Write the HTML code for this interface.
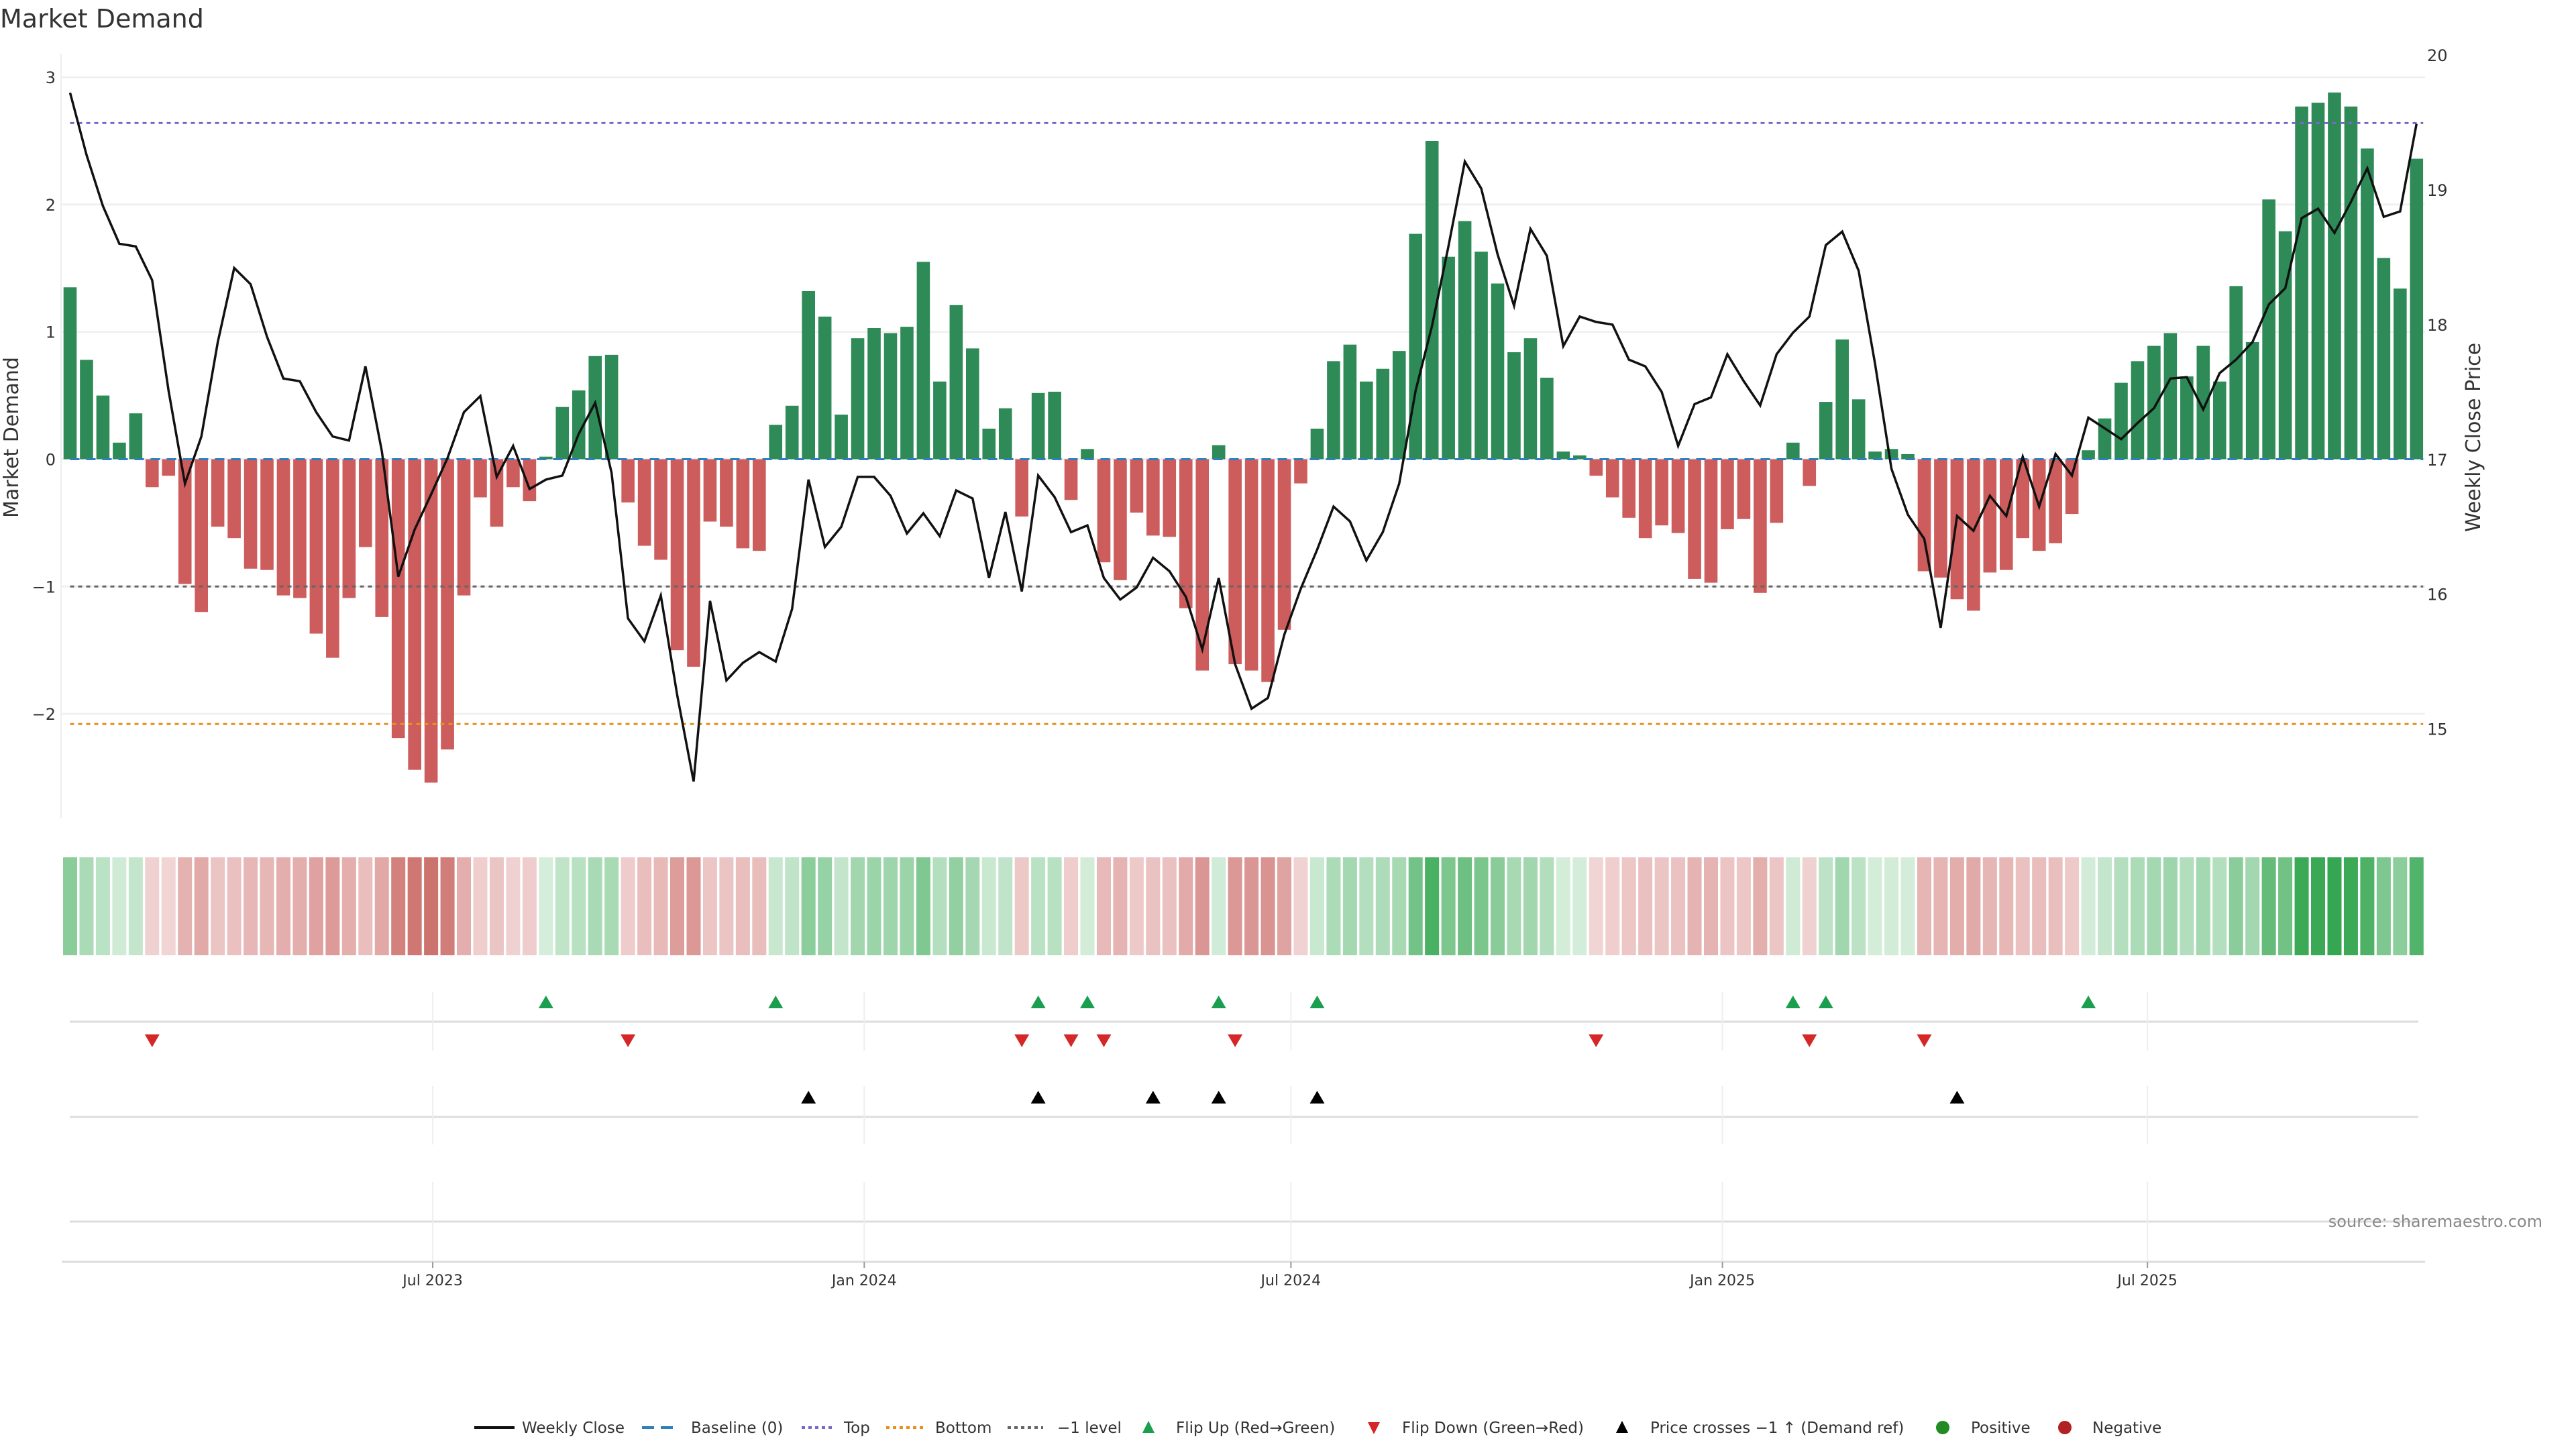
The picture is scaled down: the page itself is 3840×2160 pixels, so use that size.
<!DOCTYPE html>
<html><head><meta charset="utf-8"><title>Market Demand</title>
<style>
html,body{margin:0;padding:0;background:#fff;}
svg{display:block;font-family:"DejaVu Sans","Liberation Sans",sans-serif;}
</style></head>
<body>
<svg id="chart" width="3840" height="2160" viewBox="0 0 3840 2160" xmlns="http://www.w3.org/2000/svg">
<text x="0" y="41" font-size="38" fill="#333">Market Demand</text>
<g id="grid"></g>
<g id="main"></g>
<g id="heat"></g>
<g id="markers"></g>
<g id="xaxis"></g>
<text transform="translate(27,652) rotate(-90)" text-anchor="middle" font-size="30" fill="#333">Market Demand</text>
<text transform="translate(3697,652) rotate(-90)" text-anchor="middle" font-size="30" fill="#333">Weekly Close Price</text>
<text x="3790" y="1829" text-anchor="end" font-size="24" fill="#888">source: sharemaestro.com</text>
<g id="legend"></g>
</svg>
<script>
const demand = [1.35,0.78,0.50,0.13,0.36,-0.22,-0.13,-0.98,-1.20,-0.53,-0.62,-0.86,-0.87,-1.07,-1.09,-1.37,-1.56,-1.09,-0.69,-1.24,-2.19,-2.44,-2.54,-2.28,-1.07,-0.30,-0.53,-0.22,-0.33,0.02,0.41,0.54,0.81,0.82,-0.34,-0.68,-0.79,-1.50,-1.63,-0.49,-0.53,-0.70,-0.72,0.27,0.42,1.32,1.12,0.35,0.95,1.03,0.99,1.04,1.55,0.61,1.21,0.87,0.24,0.40,-0.45,0.52,0.53,-0.32,0.08,-0.81,-0.95,-0.42,-0.60,-0.61,-1.17,-1.66,0.11,-1.61,-1.66,-1.75,-1.34,-0.19,0.24,0.77,0.90,0.61,0.71,0.85,1.77,2.50,1.59,1.87,1.63,1.38,0.84,0.95,0.64,0.06,0.03,-0.13,-0.30,-0.46,-0.62,-0.52,-0.58,-0.94,-0.97,-0.55,-0.47,-1.05,-0.50,0.13,-0.21,0.45,0.94,0.47,0.06,0.08,0.04,-0.88,-0.93,-1.10,-1.19,-0.89,-0.87,-0.62,-0.72,-0.66,-0.43,0.07,0.32,0.60,0.77,0.89,0.99,0.65,0.89,0.61,1.36,0.92,2.04,1.79,2.77,2.80,2.88,2.77,2.44,1.58,1.34,2.36];
const price = [19.72,19.26,18.88,18.60,18.58,18.33,17.51,16.82,17.17,17.87,18.42,18.30,17.91,17.60,17.58,17.35,17.17,17.14,17.69,17.06,16.13,16.48,16.74,17.01,17.35,17.47,16.87,17.10,16.78,16.85,16.88,17.19,17.42,16.90,15.82,15.65,15.99,15.25,14.61,15.95,15.36,15.49,15.57,15.50,15.89,16.85,16.35,16.50,16.87,16.87,16.73,16.45,16.60,16.43,16.77,16.71,16.12,16.61,16.02,16.88,16.72,16.46,16.51,16.12,15.96,16.05,16.27,16.17,15.98,15.59,16.12,15.48,15.15,15.23,15.70,16.04,16.33,16.65,16.54,16.25,16.46,16.82,17.51,17.99,18.58,19.21,19.01,18.52,18.14,18.71,18.51,17.84,18.06,18.02,18.00,17.74,17.69,17.50,17.10,17.41,17.46,17.78,17.58,17.40,17.78,17.94,18.06,18.59,18.69,18.40,17.71,16.93,16.59,16.41,15.75,16.58,16.47,16.73,16.58,17.02,16.65,17.04,16.88,17.31,17.23,17.15,17.27,17.38,17.60,17.61,17.37,17.64,17.74,17.87,18.15,18.27,18.79,18.86,18.68,18.91,19.16,18.80,18.84,19.49];
const flipUpIdx = [29,43,59,62,70,76,105,107,123];
const flipDownIdx = [5,34,58,61,63,71,93,106,113];
const priceCrossIdx = [45,59,66,70,76,115];
const yTicks = [3,2,1,0,-1,-2];
const y2Ticks = [20,19,18,17,16,15];
const topLevel = 2.64;
const bottomLevel = -2.08;
const minusLevel = -1;
const xTickLabels = ["Jul 2023","Jan 2024","Jul 2024","Jan 2025","Jul 2025"];
const xTickPos = [22.1,48.4,74.4,100.7,126.6];

const NS="http://www.w3.org/2000/svg";
function mk(parent,tag,attrs){const e=document.createElementNS(NS,tag);for(const k in attrs)e.setAttribute(k,attrs[k]);parent.appendChild(e);return e;}
const X0=104.5, DX=24.46;
const xS = i => X0 + DX*i;
const yS = v => 684.5 - v*189.8;
const pS = p => 684.8 - (p-17)*200.9;
const grid=document.getElementById('grid'), main=document.getElementById('main');
let al=mk(grid,'line',{x1:91,x2:91,y1:80,y2:1220,stroke:'#eee','stroke-width':2});


yTicks.forEach(t=>{
  const g=mk(grid,'line',{x1:91,x2:3615,y1:yS(t),y2:yS(t),stroke:'#f0f0f0','stroke-width':3});
  
  
  const tx=mk(grid,'text',{x:83,y:yS(t)+9,'text-anchor':'end','font-size':24,fill:'#333'});
  tx.textContent = t<0 ? '\u2212'+Math.abs(t) : String(t);
  
  
});
y2Ticks.forEach(t=>{
  const tx=mk(grid,'text',{x:3618,y:pS(t)+9,'font-size':24,fill:'#333'});
  tx.textContent=String(t);
  
  
});
demand.forEach((v,i)=>{
  const y=Math.min(yS(v),yS(0)), h=Math.abs(yS(v)-yS(0));
  const r=mk(main,'rect',{x:xS(i)-9.8,y:y,width:19.6,height:Math.max(h,0.5),fill:v>=0?'#2e8b57':'#cd5c5c'});
  
  
});
function hline(v,color,dash,name){
  const l=mk(main,'line',{x1:xS(0),x2:xS(demand.length-1)+10,y1:yS(v),y2:yS(v),stroke:color,'stroke-width':3,'stroke-dasharray':dash});
  
  
}
hline(0,'#2f7fb8','14 10','baseline-line');
hline(topLevel,'#7a68c6','6 6','top-line');
hline(bottomLevel,'#e8901c','6 6','bottom-line');
hline(minusLevel,'#666','6 6','minus-one-line');
const pl=mk(main,'polyline',{points:price.map((p,i)=>xS(i)+','+pS(p)).join(' '),fill:'none',stroke:'#111','stroke-width':3.5,'stroke-linejoin':'miter'});


const heat=document.getElementById('heat');
function heatColor(v){
  const t=Math.min(Math.abs(v)/2.9,1);
  const a=v>=0?[214,238,220]:[243,218,218], b=v>=0?[52,166,80]:[200,100,95];
  return 'rgb('+a.map((c,k)=>Math.round(c+(b[k]-c)*t)).join(',')+')';
}
demand.forEach((v,i)=>{
  const r=mk(heat,'rect',{x:xS(i)-10.5,y:1278,width:21,height:146,fill:heatColor(v)});
  
  
});
const mg=document.getElementById('markers');
[[1479,1566,1523],[1619,1706,1665],[1762,1883,1821]].forEach(row=>{
  const g=mk(mg,'line',{x1:104,x2:3605,y1:row[2],y2:row[2],stroke:'#ddd','stroke-width':3});
  
  
  xTickPos.forEach(p=>{
    const v=mk(mg,'line',{x1:xS(p),x2:xS(p),y1:row[0],y2:row[1],stroke:'#eee','stroke-width':2});
    
    
  });
});
function tri(x,y,up,color,name){
  const pts = up ? [[x-11,y+9],[x+11,y+9],[x,y-10]] : [[x-11,y-9],[x+11,y-9],[x,y+10]];
  const t=mk(mg,'polygon',{points:pts.map(p=>p.join(',')).join(' '),fill:color});
  
  
}
flipUpIdx.forEach(i=>tri(xS(i),1494,true,'#1a9e50','flip-up-marker'));
flipDownIdx.forEach(i=>tri(xS(i),1551,false,'#d62728','flip-down-marker'));
priceCrossIdx.forEach(i=>tri(xS(i),1636,true,'#000','price-cross-marker'));
const xa=document.getElementById('xaxis');
const axl=mk(xa,'line',{x1:92,x2:3615,y1:1881,y2:1881,stroke:'#ddd','stroke-width':3});


xTickLabels.forEach((lab,k)=>{
  const x=xS(xTickPos[k]);
  const tk=mk(xa,'line',{x1:x,x2:x,y1:1881,y2:1890,stroke:'#999','stroke-width':2});
  
  
  const t=mk(xa,'text',{x:x,y:1916,'text-anchor':'middle','font-size':22,fill:'#333'});
  t.textContent=lab;
  
  
});
const lg=document.getElementById('legend');
const LY=2128;
function ltext(x,s){const t=mk(lg,'text',{x:x,y:LY+8,'font-size':23,fill:'#333'});t.textContent=s;}
function lline(x1,x2,color,dash,w){const l=mk(lg,'line',{x1:x1,x2:x2,y1:LY,y2:LY,stroke:color,'stroke-width':w,'stroke-dasharray':dash});}
lline(707,767,'#111','none',4); ltext(778,'Weekly Close');
lline(957,1007,'#2f7fb8','18 10',4); ltext(1030,'Baseline (0)');
lline(1195,1245,'#7a68c6','5 5',4); ltext(1258,'Top');
lline(1321,1377,'#e8901c','5 5',4); ltext(1394,'Bottom');
lline(1502,1555,'#666','5 5',4); ltext(1576,'\u22121 level');
function ltri(x,up,color){const pts=up?[[x-9,LY+8],[x+9,LY+8],[x,LY-10]]:[[x-9,LY-8],[x+9,LY-8],[x,LY+10]];const t=mk(lg,'polygon',{points:pts.map(p=>p.join(',')).join(' '),fill:color});}
ltri(1712,true,'#1a9e50'); ltext(1753,'Flip Up (Red\u2192Green)');
ltri(2048,false,'#d62728'); ltext(2090,'Flip Down (Green\u2192Red)');
ltri(2418,true,'#000'); ltext(2460,'Price crosses \u22121 \u2191 (Demand ref)');
function lcirc(x,color){const c=mk(lg,'circle',{cx:x,cy:LY,r:10,fill:color});}
lcirc(2896,'#228b22'); ltext(2938,'Positive');
lcirc(3078,'#b22222'); ltext(3119,'Negative');
</script>
</body></html>
